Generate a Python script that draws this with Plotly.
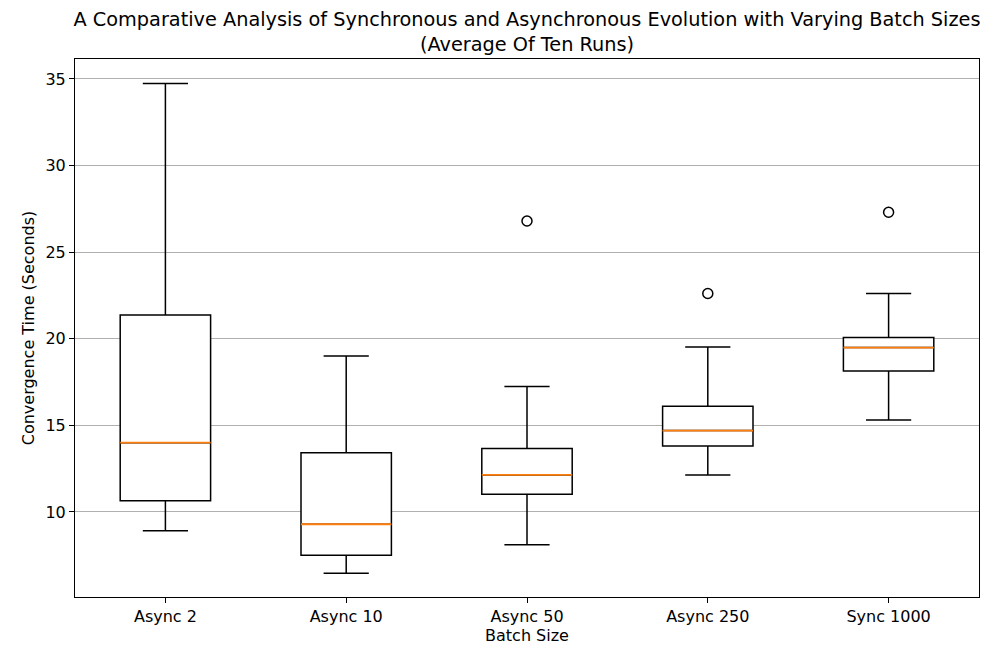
import plotly.graph_objects as go

categories = ["Async 2", "Async 10", "Async 50", "Async 250", "Sync 1000"]
lower_whisker = [8.92, 6.46, 8.10, 12.14, 15.31]
q1 = [10.65, 7.50, 11.02, 13.81, 18.14]
median = [14.00, 9.29, 12.14, 14.70, 19.49]
q3 = [21.37, 13.42, 13.66, 16.10, 20.07]
upper_whisker = [34.73, 19.01, 17.24, 19.53, 22.61]
outlier_cat = ["Async 50", "Async 250", "Sync 1000"]
outlier_val = [26.80, 22.61, 27.30]

FONT = "DejaVu Sans"
TICK = 16
TITLE = 19.3

fig = go.Figure()

fig.add_trace(go.Box(
    x=categories, q1=q1, median=median, q3=q3,
    lowerfence=lower_whisker, upperfence=upper_whisker,
    width=0.5, whiskerwidth=0.5,
    fillcolor="white", line=dict(color="black", width=1.5),
    boxpoints=False, hoverinfo="skip", showlegend=False,
))

# orange median lines (degenerate box at the median)
fig.add_trace(go.Box(
    x=categories, q1=median, median=median, q3=median,
    lowerfence=median, upperfence=median,
    width=0.5, whiskerwidth=0.0,
    fillcolor="rgba(0,0,0,0)", line=dict(color="#ff7f0e", width=1.8),
    boxpoints=False, hoverinfo="skip", showlegend=False,
))

fig.add_trace(go.Scatter(
    x=outlier_cat, y=outlier_val, mode="markers",
    marker=dict(symbol="circle-open", size=10, color="black", line=dict(width=1.5)),
    showlegend=False, hoverinfo="skip",
))

fig.update_layout(
    width=992, height=661,
    paper_bgcolor="white", plot_bgcolor="white",
    boxmode="overlay",
    margin=dict(l=67, r=21, t=51, b=72),
    font=dict(family=FONT, size=TICK, color="black"),
    title=dict(
        text="A Comparative Analysis of Synchronous and Asynchronous Evolution with Varying Batch Sizes<br>(Average Of Ten Runs)",
        x=0.5, xanchor="center", xref="paper",
        y=1 - 18 / 661, yref="container", yanchor="top",
        font=dict(family=FONT, size=TITLE, color="black"),
    ),
)

fig.update_xaxes(
    type="category", categoryorder="array", categoryarray=categories,
    range=[-0.5, 4.5],
    showline=True, linecolor="black", linewidth=1, mirror=True,
    ticks="outside", ticklen=5, tickcolor="black", tickwidth=1,
    showgrid=False, zeroline=False,
    title=dict(text="Batch Size", standoff=4, font=dict(family=FONT, size=TICK)),
    tickfont=dict(family=FONT, size=TICK),
)
fig.update_yaxes(
    range=[5.09, 36.15],
    tickvals=[10, 15, 20, 25, 30, 35],
    showline=True, linecolor="black", linewidth=1, mirror=True,
    ticks="outside", ticklen=5, tickcolor="black", tickwidth=1,
    showgrid=True, gridcolor="#b0b0b0", gridwidth=1, zeroline=False,
    title=dict(text="Convergence Time (Seconds)", standoff=6, font=dict(family=FONT, size=TICK)),
    tickfont=dict(family=FONT, size=TICK),
)

fig.write_html("out.html")
